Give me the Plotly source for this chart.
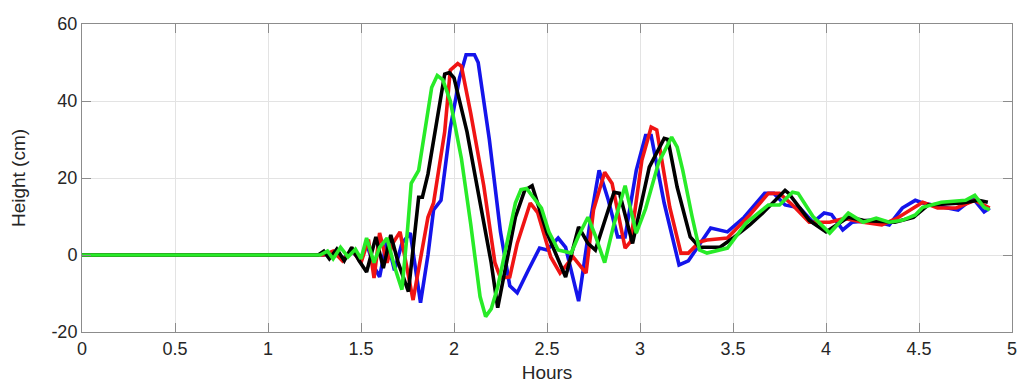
import plotly.graph_objects as go

# ---- data (hours, height cm) ----
blue_x = [0, 1.30, 1.35, 1.40, 1.45, 1.50, 1.53, 1.57, 1.60, 1.64, 1.68, 1.72, 1.765, 1.82,
          1.86, 1.89, 1.93, 1.98, 2.03, 2.065, 2.11, 2.13, 2.19, 2.25, 2.30, 2.34, 2.40, 2.46,
          2.50, 2.56, 2.60, 2.67, 2.73, 2.78, 2.83, 2.88, 2.92, 2.98, 3.03, 3.06, 3.13, 3.21,
          3.26, 3.31, 3.38, 3.47, 3.56, 3.67, 3.72, 3.78, 3.86, 3.93, 3.99, 4.03, 4.09, 4.14,
          4.24, 4.34, 4.41, 4.48, 4.52, 4.71, 4.79, 4.85, 4.88]
blue_y = [0, 0, 0.5, -1, 1, -1.5, 3, -3, -5.7, 4, -4, 3, 5.7, -12.4,
          0, 11.7, 14.2, 33, 46, 52, 52, 50, 30, 6, -8, -9.8, -3.9, 1.8,
          1.3, 4.4, 2, -12, 8, 22, 14.2, 4.7, 4.7, 22, 31, 31, 13.5, -2.6,
          -1.5, 2, 7, 6, 9.8, 16, 16, 13, 12.2, 8.5, 10.9, 10.5, 6.5, 8.5,
          9, 7.8, 12.2, 14.2, 13.5, 11.7, 14.7, 11.2, 12.2]

red_x = [0, 1.30, 1.35, 1.40, 1.45, 1.50, 1.54, 1.57, 1.60, 1.64, 1.67, 1.71, 1.78,
         1.83, 1.86, 1.89, 1.95, 1.98, 2.02, 2.04, 2.09, 2.16, 2.22, 2.25, 2.30, 2.34,
         2.41, 2.45, 2.52, 2.57, 2.64, 2.71, 2.75, 2.81, 2.85, 2.92, 2.95, 3.01, 3.06,
         3.09, 3.16, 3.22, 3.26, 3.32, 3.36, 3.47, 3.59, 3.69, 3.75, 3.82, 3.91, 4.02,
         4.10, 4.20, 4.30, 4.38, 4.52, 4.60, 4.70, 4.80, 4.88]
red_y = [0, 0, 1, -1.5, 1.5, -2, 4, -6, 5.7, -2, 3, 6, -11.7,
         2, 9.8, 13.5, 32, 48, 49.7, 49, 36.8, 18, -2, -6, -5.7, 3,
         13.5, 11, -0.5, -4.7, -0.5, -4.7, 11.7, 21.5, 18.6, 1.8, 3.5, 24.6, 33.2,
         32.5, 12.4, 0.5, 0.5, 3.4, 3.9, 4.4, 10.4, 16, 16, 13, 8.5, 8.5,
         9.5, 8.5, 7.8, 9.5, 13.7, 12.2, 12.2, 14.2, 12.2]

black_x = [0, 1.27, 1.30, 1.33, 1.37, 1.41, 1.45, 1.49, 1.53, 1.58, 1.62, 1.66, 1.70, 1.755,
           1.81, 1.83, 1.86, 1.95, 1.975, 2.00, 2.07, 2.20, 2.235, 2.33, 2.38, 2.42, 2.50,
           2.60, 2.67, 2.72, 2.76, 2.86, 2.89, 2.96, 3.05, 3.13, 3.15, 3.20, 3.27, 3.32,
           3.43, 3.50, 3.59, 3.66, 3.78, 3.80, 3.91, 4.00, 4.12, 4.20, 4.37, 4.47, 4.55,
           4.73, 4.82, 4.87]
black_y = [0, 0, 1, -1, 1.5, -1.5, 2, -1.5, -4.4, 4.7, -3.4, 5.2, -2, -9.5,
           15, 15, 21, 47, 47.4, 46, 32, -2, -13.7, 9.8, 16.8, 18, 5.7,
           -5.7, 7.3, 3, 1.3, 16.3, 16, 3, 22.8, 30.3, 30, 17.6, 4.7, 2,
           2, 4.4, 7.8, 10.9, 16.8, 16, 9, 6, 9.8, 9, 8.5, 9.8, 13,
           13.5, 14.2, 13.7]

green_x = [0, 1.28, 1.32, 1.35, 1.39, 1.43, 1.47, 1.50, 1.53, 1.57, 1.60, 1.64, 1.68, 1.72,
           1.75, 1.77, 1.81, 1.85, 1.88, 1.91, 1.94, 1.98, 2.04, 2.09, 2.14, 2.17, 2.20,
           2.235, 2.29, 2.33, 2.36, 2.39, 2.47, 2.51, 2.56, 2.63, 2.67, 2.72, 2.76, 2.81,
           2.86, 2.92, 2.98, 3.03, 3.10, 3.17, 3.20, 3.23, 3.28, 3.32, 3.36, 3.47, 3.57,
           3.69, 3.75, 3.82, 3.85, 3.93, 4.02, 4.12, 4.20, 4.27, 4.34, 4.41, 4.48, 4.52,
           4.62, 4.75, 4.80, 4.85, 4.88]
green_y = [0, 0, 1, -1, 2, -0.5, 1.5, -1, 4.4, -2, 2, 4.4, -3, -9,
           6.5, 18.6, 22, 35, 43.5, 46.6, 45.5, 40, 25, 8, -10.8, -16, -14,
           -8.3, 5, 13.5, 17, 17.3, 12.2, 6, 1.3, 0.5, 5, 9.8, 5, -2,
           8, 18, 5.7, 12, 24, 30.6, 28, 22, 10, 1.3, 0.5, 1.8, 8.3,
           13, 13, 16.3, 16, 10, 5.7, 10.9, 8.5, 9.6, 8.5, 9, 10.4, 12.4,
           13.7, 14.2, 15.5, 12.4, 11.7]

x_ticks = [0, 0.5, 1, 1.5, 2, 2.5, 3, 3.5, 4, 4.5, 5]
x_ticklabels = ["0", "0.5", "1", "1.5", "2", "2.5", "3", "3.5", "4", "4.5", "5"]
y_ticks = [-20, 0, 20, 40, 60]
y_ticklabels = ["-20", "0", "20", "40", "60"]

series = [
    (blue_x, blue_y, "rgb(20,20,235)"),
    (red_x, red_y, "rgb(240,20,20)"),
    (black_x, black_y, "rgb(0,0,0)"),
    (green_x, green_y, "rgb(40,235,40)"),
]

fig = go.Figure()
for xs, ys, col in series:
    fig.add_trace(go.Scatter(x=xs, y=ys, mode="lines",
                             line=dict(color=col, width=3.6),
                             showlegend=False, hoverinfo="skip"))

font_family = "Liberation Sans, Arial, sans-serif"
axis_common = dict(
    showgrid=True, gridcolor="#e3e3e3", gridwidth=1,
    showline=True, linecolor="#8c8c8c", linewidth=1, mirror="ticks",
    ticks="inside", ticklen=9, tickcolor="#8c8c8c", tickwidth=1,
    zeroline=False,
    tickfont=dict(family=font_family, size=18, color="#262626"),
)

fig.update_layout(
    width=1024, height=387,
    margin=dict(l=82, r=7, t=24, b=54),
    paper_bgcolor="white", plot_bgcolor="white",
    xaxis=dict(range=[0, 5], tickvals=x_ticks, ticktext=x_ticklabels,
               title=dict(text="Hours", standoff=8,
                          font=dict(family=font_family, size=19, color="#262626")),
               **axis_common),
    yaxis=dict(range=[-20, 60], tickvals=y_ticks, ticktext=y_ticklabels,
               title=dict(text="Height (cm)", standoff=20,
                          font=dict(family=font_family, size=19, color="#262626")),
               **axis_common),
)

fig.write_html("out.html")
